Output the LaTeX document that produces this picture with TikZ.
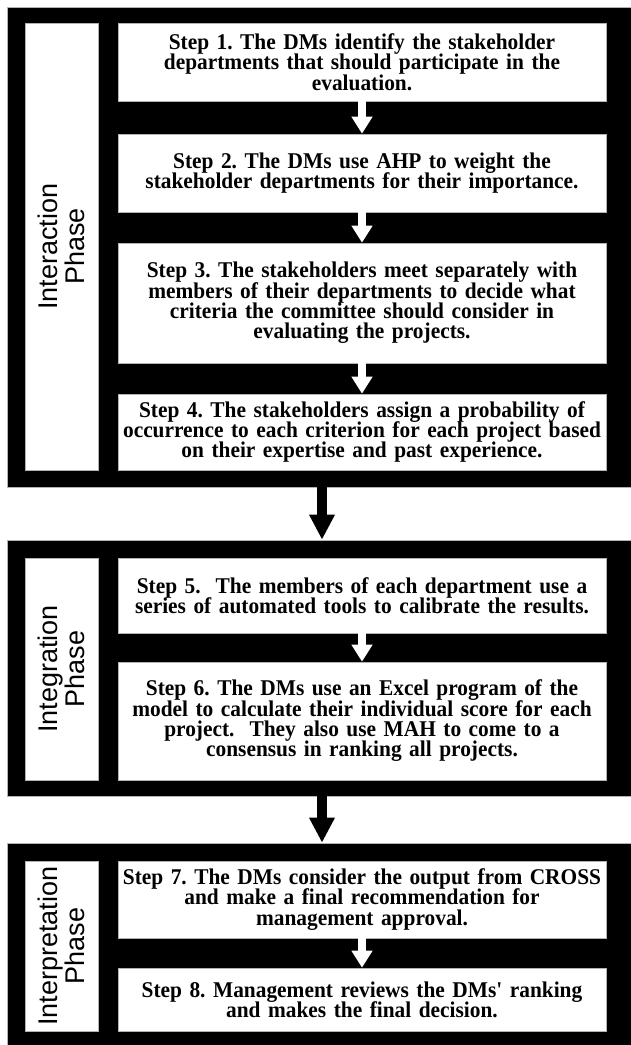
\documentclass[tikz,border=0pt]{standalone}
\usepackage{fontspec}
\setmainfont{Liberation Serif}
\setsansfont{Liberation Sans}
\newfontfamily\stepserif[FakeStretch=0.95]{Liberation Serif}
\usetikzlibrary{arrows.meta}

\newcommand{\stepfont}{\stepserif\fontsize{22.5}{20.3}\selectfont\bfseries\frenchspacing\lineskiplimit=-30pt\relax}
\newcommand{\phasefont}{\sffamily\fontsize{27}{27.5}\selectfont\lineskiplimit=-30pt\relax}

\begin{document}
\begin{tikzpicture}[x=1pt, y=-1pt,
  panel/.style={draw=gray!60, fill=black, line width=0.6pt, minimum width=630pt},
  stepbox/.style={draw=gray!60, fill=white, line width=0.6pt, minimum width=488pt, text width=482pt, inner sep=3pt, align=center, font=\stepfont},
  phasebox/.style={draw=gray!60, fill=white, line width=0.6pt, rotate=90, minimum height=73pt, inner sep=2pt, align=center, font=\phasefont},
  flow/.style={line width=10pt, -{Triangle[width=24pt,length=25pt]}},
  substep/.style={white, line width=8pt, -{Triangle[width=20pt,length=17pt]}}]

  \useasboundingbox (0,0) rectangle (631,1045);

  \node[panel, minimum height=480pt] (p1) at (322,247) {};
  \node[panel, minimum height=256pt] (p2) at (322,668) {};
  \node[panel, minimum height=205pt] (p3) at (322,945.5) {};

  \node[phasebox, minimum width=447pt] (interaction) at (61.5,246.5) {Interaction\\Phase};
  \node[phasebox, minimum width=222pt] (integration) at (61.5,669) {Integration\\Phase};
  \node[phasebox, minimum width=170pt] (interpretation) at (61.5,946) {Interpretation\\Phase};

  \node[stepbox, minimum height=78pt] (s1) at (362,62) {Step 1. The DMs identify the stakeholder\\departments that should participate in the\\evaluation.};
  \node[stepbox, minimum height=78pt] (s2) at (362,173) {Step 2. The DMs use AHP to weight the\\stakeholder departments for their importance.};
  \node[stepbox, minimum height=120pt] (s3) at (362,303) {Step 3. The stakeholders meet separately with\\members of their departments to decide what\\criteria the committee should consider in\\evaluating the projects.};
  \node[stepbox, minimum height=76pt] (s4) at (362,432) {Step 4. The stakeholders assign a probability of\\occurrence to each criterion for each project based\\on their expertise and past experience.};

  \node[stepbox, minimum height=75pt] (s5) at (362,595.5) {Step 5.\ \ The members of each department use a\\series of automated tools to calibrate the results.};
  \node[stepbox, minimum height=118pt] (s6) at (362,721) {Step 6. The DMs use an Excel program of the\\model to calculate their individual score for each\\project.\ \ They also use MAH to come to a\\consensus in ranking all projects.};

  \node[stepbox, minimum height=77pt] (s7) at (362,899.5) {Step 7. The DMs consider the output from CROSS\\and make a final recommendation for\\management approval.};
  \node[stepbox, minimum height=63pt] (s8) at (362,999.5) {Step 8. Management reviews the DMs' ranking\\and makes the final decision.};

  \draw[substep] (s1.south) -- (s2.north);
  \draw[substep] (s2.south) -- (s3.north);
  \draw[substep] (s3.south) -- (s4.north);
  \draw[substep] (s5.south) -- (s6.north);
  \draw[substep] (s7.south) -- (s8.north);

  \draw[flow] (p1.south) -- (p2.north);
  \draw[flow] (p2.south) -- (p3.north);
\end{tikzpicture}
\end{document}
